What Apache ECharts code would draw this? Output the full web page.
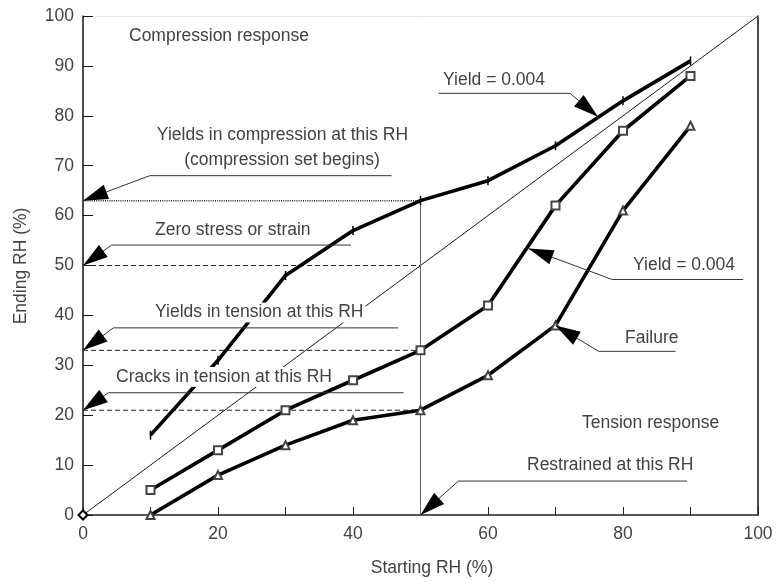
<!DOCTYPE html>
<html><head><meta charset="utf-8">
<script src="https://cdn.jsdelivr.net/npm/echarts@6/dist/echarts.min.js"></script>
<style>html,body{margin:0;padding:0;background:#fff}#c{width:777px;height:582px}</style>
</head><body><div id="c"></div>
<script>
// ---- data ----
const startingRH = [10, 20, 30, 40, 50, 60, 70, 80, 90];
const compressionYield = [16, 31, 48, 57, 63, 67, 74, 83, 91];
const tensionYield = [5, 13, 21, 27, 33, 42, 62, 77, 88];
const tensionFailure = [0, 8, 14, 19, 21, 28, 38, 61, 78];
const equalityLine = [[0, 0], [100, 100]];
const restrainedRH = 50;
const compressionSetRH = 63;
const zeroStressRH = 50;
const tensionYieldRH = 33;
const crackRH = 21;
const xLabelTicks = [0, 20, 40, 60, 80, 100];

// ---- styles / layout ----
const FONT = '"Liberation Sans", Arial, sans-serif';
const FS = 17.5;
const TXT = '#424242';

const chart = echarts.init(document.getElementById('c'), null, {renderer: 'canvas'});

function pairs(xs, ys) { return xs.map((x, i) => [x, ys[i]]); }
function hLine(level) { return [[0, level], [restrainedRH, level]]; }

const option = {
  backgroundColor: '#fff',
  animation: false,
  grid: {left: 83, right: 19, top: 16, bottom: 67, containLabel: false},
  xAxis: [{
    type: 'value', min: 0, max: 100, interval: 10,
    axisLine: {show: true, onZero: false, lineStyle: {color: '#222', width: 1.5}},
    axisTick: {show: true, inside: true, length: 8, lineStyle: {color: '#222', width: 1}},
    axisLabel: {
      formatter: v => xLabelTicks.indexOf(v) >= 0 ? String(v) : '',
      fontSize: FS, fontFamily: FONT, color: TXT, margin: 10
    },
    splitLine: {show: false}
  }, {
    type: 'value', min: 0, max: 100, position: 'top',
    axisLine: {show: true, onZero: false, lineStyle: {color: '#e6e6e6', width: 1}},
    axisTick: {show: false}, axisLabel: {show: false}, splitLine: {show: false}
  }],
  yAxis: [{
    type: 'value', min: 0, max: 100, interval: 10,
    axisLine: {show: true, onZero: false, lineStyle: {color: '#111', width: 1.5}},
    axisTick: {show: true, inside: true, length: 10, lineStyle: {color: '#111', width: 1}},
    axisLabel: {fontSize: FS, fontFamily: FONT, color: TXT, margin: 9},
    splitLine: {show: false}
  }, {
    type: 'value', min: 0, max: 100, position: 'right',
    axisLine: {show: true, onZero: false, lineStyle: {color: '#111', width: 1.5}},
    axisTick: {show: false}, axisLabel: {show: false}, splitLine: {show: false}
  }],
  series: [
    {type: 'line', data: [{value: equalityLine[0], symbol: 'emptyDiamond', symbolSize: 9}, {value: equalityLine[1], symbol: 'none'}],
     lineStyle: {color: '#000', width: 0.9}, itemStyle: {color: '#000', borderWidth: 1}, silent: true, z: 1},
    {type: 'line', data: hLine(compressionSetRH), symbol: 'none', lineStyle: {color: '#222', width: 1.5, type: [1, 1.2]}, silent: true, z: 1},
    {type: 'line', data: hLine(zeroStressRH), symbol: 'none', lineStyle: {color: '#222', width: 1, type: [5, 3]}, silent: true, z: 1},
    {type: 'line', data: hLine(tensionYieldRH), symbol: 'none', lineStyle: {color: '#222', width: 1, type: [5, 3]}, silent: true, z: 1},
    {type: 'line', data: hLine(crackRH), symbol: 'none', lineStyle: {color: '#222', width: 1, type: [5, 3]}, silent: true, z: 1},
    {type: 'line', data: [[restrainedRH, 0], [restrainedRH, compressionSetRH]], symbol: 'none', lineStyle: {color: '#666', width: 1}, silent: true, z: 1},
    {name: 'Compression yield', type: 'line', data: pairs(startingRH, compressionYield),
     symbol: 'rect', symbolSize: [1.5, 9], showAllSymbol: true,
     lineStyle: {color: '#000', width: 3.6}, itemStyle: {color: '#000'}, z: 3},
    {name: 'Tension yield', type: 'line', data: pairs(startingRH, tensionYield),
     symbol: 'emptyRect', symbolSize: 8, showAllSymbol: true,
     lineStyle: {color: '#000', width: 3.6}, itemStyle: {color: '#444', borderWidth: 1}, z: 3},
    {name: 'Failure', type: 'line', data: pairs(startingRH, tensionFailure),
     symbol: 'emptyTriangle', symbolSize: 8, showAllSymbol: true,
     lineStyle: {color: '#000', width: 3.6}, itemStyle: {color: '#444', borderWidth: 1}, z: 3}
  ]
};
chart.setOption(option);

// ---- annotations (data coordinates for arrow tip / elbow / leader end) ----
const arrows = [
  {tip: [0, 63], elbow: [9.9, 68], end: [45.7, 68]},
  {tip: [0, 50], elbow: [4.25, 54.1], end: [39.7, 54.1]},
  {tip: [0, 33], elbow: [4.5, 37.5], end: [46.7, 37.5]},
  {tip: [0, 21], elbow: [3.75, 24.5], end: [47.5, 24.5]},
  {tip: [50, 0], elbow: [55.6, 6.8], end: [89.5, 6.8]},
  {tip: [76.3, 79.8], elbow: [72.15, 84.5], end: [52.7, 84.5]},
  {tip: [66.0, 53.4], elbow: [78.4, 47.2], end: [97.8, 47.2]},
  {tip: [70, 38], elbow: [76.4, 32.8], end: [87.8, 32.8]}
];
const labels = [
  {text: 'Compression response', x: 129, y: 36, align: 'left'},
  {text: 'Yields in compression at this RH', x: 282.5, y: 135.5, align: 'center'},
  {text: '(compression set begins)', x: 282, y: 160, align: 'center'},
  {text: 'Zero stress or strain', x: 155, y: 230, align: 'left'},
  {text: 'Yields in tension at this RH', x: 153, y: 312.5, align: 'left', bg: true},
  {text: 'Cracks in tension at this RH', x: 114, y: 377, align: 'left', bg: true},
  {text: 'Yield = 0.004', x: 443, y: 80.5, align: 'left'},
  {text: 'Yield = 0.004', x: 633, y: 265.5, align: 'left'},
  {text: 'Failure', x: 625, y: 338, align: 'left'},
  {text: 'Tension response', x: 582, y: 423, align: 'left'},
  {text: 'Restrained at this RH', x: 527, y: 465, align: 'left'}
];

const P = p => chart.convertToPixel({gridIndex: 0}, p);
const graphics = [];
arrows.forEach(a => {
  const t = P(a.tip), e = P(a.elbow), n = P(a.end);
  graphics.push({type: 'polyline', z: 50, shape: {points: [t, e, n]}, style: {stroke: '#333', lineWidth: 1, fill: null}});
  const dx = t[0] - e[0], dy = t[1] - e[1], L = Math.hypot(dx, dy);
  const ux = dx / L, uy = dy / L, len = 25, w = 7.5;
  const bx = t[0] - ux * len, by = t[1] - uy * len;
  graphics.push({type: 'polygon', z: 51, shape: {points: [t, [bx - uy * w, by + ux * w], [bx + uy * w, by - ux * w]]}, style: {fill: '#000'}});
});
labels.forEach(l => {
  const st = {text: l.text, x: l.x, y: l.y, font: FS + 'px ' + FONT, fill: TXT, align: l.align, verticalAlign: 'middle'};
  if (l.bg) { st.backgroundColor = '#fff'; st.padding = [1, 2]; }
  graphics.push({type: 'text', z: 60, style: st});
});
graphics.push({type: 'text', z: 60, style: {text: 'Starting RH (%)', x: 432, y: 568, font: FS + 'px ' + FONT, fill: TXT, align: 'center', verticalAlign: 'middle'}});
graphics.push({type: 'text', z: 60, x: 21, y: 266, rotation: Math.PI / 2, style: {text: 'Ending RH (%)', x: 0, y: 0, font: FS + 'px ' + FONT, fill: TXT, align: 'center', verticalAlign: 'middle'}});
chart.setOption({graphic: graphics});
</script>
</body></html>
